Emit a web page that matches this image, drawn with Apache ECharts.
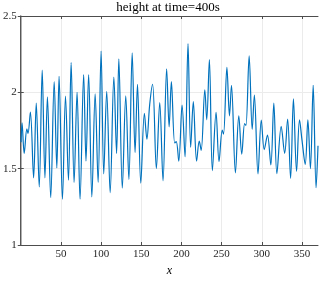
<!DOCTYPE html>
<html>
<head>
<meta charset="utf-8">
<script src="https://cdn.jsdelivr.net/npm/echarts@6/dist/echarts.min.js"></script>
<style>html,body{margin:0;padding:0;background:#fff}#c{width:319px;height:282px}</style>
</head>
<body>
<div id="c"></div>
<script>
const titleText = 'height at time=400s';
const xTicks = [50, 100, 150, 200, 250, 300, 350];
const yTicks = [1, 1.5, 2, 2.5];
const xValues = [0.4, 1.6, 4.3, 7.6, 9.0, 12.0, 16.0, 19.3, 23.0, 26.7, 30.1, 33.2, 37.3, 41.6, 44.9, 47.7, 51.9, 55.7, 59.4, 62.7,
  66.4, 70.1, 73.8, 78.3, 81.2, 84.5, 88.5, 92.6, 96.3, 100.0, 103.3, 107.0, 111.3, 115.9, 119.3, 122.1, 126.4, 130.7, 134.6, 138.7,
  142.3, 145.3, 149.4, 153.9, 157.0, 160.5, 164.1, 168.8, 173.0, 177.1, 181.6, 184.7, 187.5, 191.6, 193.6, 196.7, 200.8, 204.5, 208.2, 211.5,
  214.8, 218.9, 222.2, 224.6, 229.1, 231.5, 234.8, 238.5, 243.1, 246.8, 250.8, 252.4, 256.6, 259.8, 262.3, 267.2, 271.4, 275.1, 278.7, 280.3,
  284.3, 288.1, 290.8, 295.3, 299.4, 303.1, 307.1, 311.3, 315.0, 318.8, 324.2, 328.5, 332.2, 335.9, 339.4, 343.3, 347.0, 350.0, 354.1, 357.4,
  360.6, 364.0, 367.6, 370.0];
const heightValues = [1.673, 1.80, 1.60, 1.76, 1.73, 1.87, 1.44, 1.93, 1.38, 2.145, 1.44, 1.97, 1.31, 2.07, 1.505, 2.105, 1.30, 1.975, 1.425, 2.196,
  1.41, 2.00, 1.30, 2.116, 1.55, 2.116, 1.315, 1.99, 1.41, 2.27, 1.466, 2.006, 1.343, 2.10, 1.60, 2.22, 1.373, 1.977, 1.43, 2.258,
  1.606, 2.053, 1.405, 1.863, 1.694, 1.92, 2.053, 1.50, 1.932, 1.42, 2.154, 1.774, 2.07, 1.668, 1.677, 1.55, 1.916, 1.578, 2.32, 1.64,
  1.94, 1.55, 1.68, 1.62, 2.017, 1.82, 2.215, 1.487, 1.869, 1.546, 1.753, 1.726, 2.163, 1.846, 2.046, 1.473, 1.846, 1.595, 1.796, 1.783,
  2.239, 1.758, 1.982, 1.466, 1.818, 1.625, 1.72, 1.525, 1.93, 1.468, 1.778, 1.60, 1.825, 1.437, 1.958, 1.483, 1.82, 1.69, 1.528, 1.82,
  1.50, 2.046, 1.375, 1.65];

const serif = '"Liberation Serif", "DejaVu Serif", serif';
const axisColor = '#4d4d4d';
const gridColor = '#ebebeb';
const chart = echarts.init(document.getElementById('c'), null, {renderer: 'canvas'});
const baseX = {
  type: 'value', min: 0, max: 370, interval: 50,
  axisLine: {show: true, lineStyle: {color: axisColor, width: 1}},
  axisTick: {show: true, inside: true, length: 3, lineStyle: {color: axisColor}, customValues: xTicks},
};
const baseY = {
  type: 'value', min: 1, max: 2.5, interval: 0.5,
  axisLine: {show: true, lineStyle: {color: axisColor, width: 1}},
  axisTick: {show: true, inside: true, length: 3, lineStyle: {color: axisColor}, customValues: yTicks},
};
chart.setOption({
  animation: false,
  title: {
    text: titleText, left: 168, top: 1, padding: 0, textAlign: 'center',
    textStyle: {fontFamily: serif, fontSize: 13, fontWeight: 'normal', color: '#000'}
  },
  grid: {left: 17, right: 1, top: 16, bottom: 29, containLabel: false},
  xAxis: [
    Object.assign({}, baseX, {
      position: 'bottom',
      name: 'x', nameLocation: 'middle', nameGap: 20,
      nameTextStyle: {fontFamily: serif, fontStyle: 'italic', fontSize: 12, color: '#000'},
      axisLabel: {fontFamily: serif, fontSize: 11, color: '#262626', margin: 4, customValues: xTicks},
      splitLine: {show: true, lineStyle: {color: gridColor, width: 1}}
    }),
    Object.assign({}, baseX, {position: 'top', axisLabel: {show: false}, splitLine: {show: false}})
  ],
  yAxis: [
    Object.assign({}, baseY, {
      position: 'left',
      axisLabel: {fontFamily: serif, fontSize: 11, color: '#262626', margin: 4, customValues: yTicks},
      splitLine: {show: true, lineStyle: {color: gridColor, width: 1}}
    }),
    Object.assign({}, baseY, {position: 'right', axisLabel: {show: false}, splitLine: {show: false}})
  ],
  series: [{
    type: 'line',
    data: xValues.map((x, i) => [x, heightValues[i]]),
    smooth: 0.35,
    showSymbol: false,
    lineStyle: {color: '#0072BD', width: 1.2},
    clip: true
  }]
});
</script>
</body>
</html>
